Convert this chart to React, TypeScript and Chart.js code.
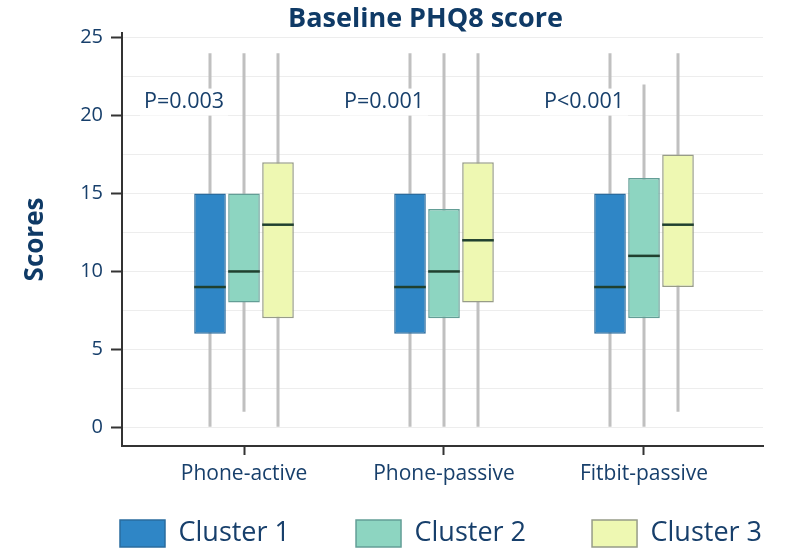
import React, { useEffect, useRef } from 'react';
import { Chart, registerables } from 'chart.js';

Chart.register(...registerables);

// ---- data ----
const categories = ['Phone-active', 'Phone-passive', 'Fitbit-passive'];
const clusterNames = ['Cluster 1', 'Cluster 2', 'Cluster 3'];
const pValueLabels = ['P=0.003', 'P=0.001', 'P<0.001'];

const cluster1Min = [0, 0, 0];
const cluster1Q1 = [6, 6, 6];
const cluster1Median = [9, 9, 9];
const cluster1Q3 = [15, 15, 15];
const cluster1Max = [24, 24, 24];

const cluster2Min = [1, 0, 0];
const cluster2Q1 = [8, 7, 7];
const cluster2Median = [10, 10, 11];
const cluster2Q3 = [15, 14, 16];
const cluster2Max = [24, 24, 22];

const cluster3Min = [0, 0, 1];
const cluster3Q1 = [7, 8, 9];
const cluster3Median = [13, 12, 13];
const cluster3Q3 = [17, 17, 17.5];
const cluster3Max = [24, 24, 24];

const yTickValues = [0, 5, 10, 15, 20, 25];
const yMinorValues = [2.5, 7.5, 12.5, 17.5, 22.5];

const clusters = [
  { name: clusterNames[0], min: cluster1Min, q1: cluster1Q1, median: cluster1Median, q3: cluster1Q3, max: cluster1Max },
  { name: clusterNames[1], min: cluster2Min, q1: cluster2Q1, median: cluster2Median, q3: cluster2Q3, max: cluster2Max },
  { name: clusterNames[2], min: cluster3Min, q1: cluster3Q1, median: cluster3Median, q3: cluster3Q3, max: cluster3Max },
];

// ---- styles ----
const FONT = '"Open Sans", "Noto Sans", sans-serif';
const TEXT = '#173f6b';
const fills = ['#2f86c6', '#8dd5c1', '#eef8b2'];
const borders = ['#2a6c9f', '#639e96', '#979c88'];
const WHISKER = '#c0c0c0';
const MEDIAN = '#20402f';

const medianPlugin = {
  id: 'medianLines',
  afterDatasetsDraw(chart: any) {
    const { ctx } = chart;
    const y = chart.scales.y;
    clusters.forEach((c, k) => {
      const meta = chart.getDatasetMeta(k);
      meta.data.forEach((bar: any, i: number) => {
        const { x, width } = bar.getProps(['x', 'width'], true);
        const py = y.getPixelForValue(c.median[i]);
        ctx.save();
        ctx.strokeStyle = MEDIAN;
        ctx.lineWidth = 2.5;
        ctx.beginPath();
        ctx.moveTo(x - width / 2, py);
        ctx.lineTo(x + width / 2, py);
        ctx.stroke();
        ctx.restore();
      });
    });
  },
};

const pLabelPlugin = {
  id: 'pLabels',
  afterDatasetsDraw(chart: any) {
    const { ctx } = chart;
    const xs = chart.scales.x;
    const ys = chart.scales.y;
    ctx.save();
    ctx.font = `21.5px ${FONT}`;
    ctx.textBaseline = 'middle';
    ctx.textAlign = 'left';
    pValueLabels.forEach((t, i) => {
      const left = xs.getPixelForValue(i - 0.5);
      const cy = ys.getPixelForValue(20.9);
      const w = ctx.measureText(t).width;
      ctx.fillStyle = '#ffffff';
      ctx.fillRect(left - 4, cy - 13, w + 8, 27);
      ctx.fillStyle = TEXT;
      ctx.fillText(t, left, cy);
    });
    ctx.restore();
  },
};

const placePlugin = {
  id: 'boxPlace',
  afterLayout(chart: any) {
    const lg = chart.legend;
    if (lg) {
      const pad = lg.options.labels.padding;
      const dx = 120 - pad - lg.left;
      const dy = 520 - pad - lg.top;
      lg.left += dx;
      lg.right = lg.left + 1200;
      lg.top += dy;
      lg.bottom = chart.height;
    }
    const tt = chart.titleBlock;
    if (tt) {
      tt.left += 44;
      tt.right += 44;
    }
  },
};

export default function App() {
  const ref = useRef<HTMLCanvasElement>(null);

  useEffect(() => {
    if (!ref.current) return;
    Chart.defaults.font.family = FONT;
    Chart.defaults.color = TEXT;

    const boxSets = clusters.map((c, k) => ({
      type: 'bar' as const,
      label: c.name,
      data: categories.map((_, i) => ({ x: i, y: [c.q1[i], c.q3[i]] })),
      backgroundColor: fills[k],
      borderColor: borders[k],
      borderWidth: 1.5,
      borderSkipped: false,
      stack: 's' + k,
      categoryPercentage: 0.51,
      barPercentage: 0.93,
      order: 0,
    }));
    const whiskerSets = clusters.map((c, k) => ({
      type: 'bar' as const,
      label: c.name + ' range',
      data: categories.map((_, i) => ({ x: i, y: [c.min[i], c.max[i]] })),
      backgroundColor: WHISKER,
      borderWidth: 0,
      stack: 's' + k,
      categoryPercentage: 0.51,
      barPercentage: 0.93,
      maxBarThickness: 3,
      order: 1,
    }));

    const chart = new Chart(ref.current, {
      type: 'bar',
      data: { datasets: [...boxSets, ...whiskerSets] as any },
      options: {
        animation: false,
        responsive: false,
        layout: { padding: { left: 0, right: 24, top: 0, bottom: 0 } },
        plugins: {
          title: {
            display: true,
            text: 'Baseline PHQ8 score',
            color: '#0f3a66',
            font: { size: 27, weight: 'bold', family: FONT, lineHeight: 1 },
            padding: { top: 6, bottom: 0 },
          },
          legend: {
            display: true,
            position: 'bottom',
            align: 'start',
            maxHeight: 50,
            labels: {
              filter: (item: any) => item.datasetIndex < 3,
              boxWidth: 45,
              boxHeight: 27,
              padding: 66,
              color: TEXT,
              font: { size: 27, family: FONT },
            },
          },
          tooltip: { enabled: false },
        },
        scales: {
          x: {
            type: 'linear',
            offset: false,
            min: -0.61,
            max: 2.595,
            afterBuildTicks: (s: any) => {
              s.ticks = categories.map((_, i) => ({ value: i }));
            },
            afterFit: (s: any) => {
              s.height = 55;
            },
            ticks: {
              autoSkip: false,
              padding: 6,
              color: TEXT,
              font: { size: 21, family: FONT },
              callback: (v: any) => categories[v as number] ?? '',
            },
            grid: {
              offset: false,
              drawOnChartArea: false,
              drawTicks: true,
              tickLength: 9,
              tickColor: '#333333',
              tickWidth: 2,
            },
            border: { display: true, color: '#333333', width: 2 },
          },
          y: {
            type: 'linear',
            min: -1.2,
            max: 25.3,
            stacked: false,
            afterBuildTicks: (s: any) => {
              s.ticks = [...yTickValues, ...yMinorValues].sort((a, b) => a - b).map((v) => ({ value: v }));
            },
            afterFit: (s: any) => {
              s.width = 122;
            },
            ticks: {
              autoSkip: false,
              padding: 8,
              color: TEXT,
              font: { size: 20, family: FONT },
              callback: (v: any) => (yTickValues.includes(v as number) ? String(v) : ''),
            },
            grid: {
              drawOnChartArea: true,
              color: '#ededed',
              lineWidth: 1,
              tickLength: 11,
              tickWidth: 2,
              tickColor: (ctx: any) => (yTickValues.includes(ctx.tick?.value) ? '#333333' : 'rgba(0,0,0,0)'),
            },
            border: { display: true, color: '#333333', width: 2 },
            title: {
              display: true,
              text: 'Scores',
              color: '#0f3a66',
              font: { size: 26, weight: 'bold', family: FONT },
              padding: { top: 20, bottom: 0 },
            },
          },
        },
      } as any,
      plugins: [medianPlugin, pLabelPlugin, placePlugin],
    });

    return () => chart.destroy();
  }, []);

  return (
    <div style={{ position: 'absolute', left: 0, top: 0, width: 787, height: 551, background: '#fff' }}>
      <canvas ref={ref} width={787} height={551} style={{ display: 'block', width: 787, height: 551 }} />
    </div>
  );
}
